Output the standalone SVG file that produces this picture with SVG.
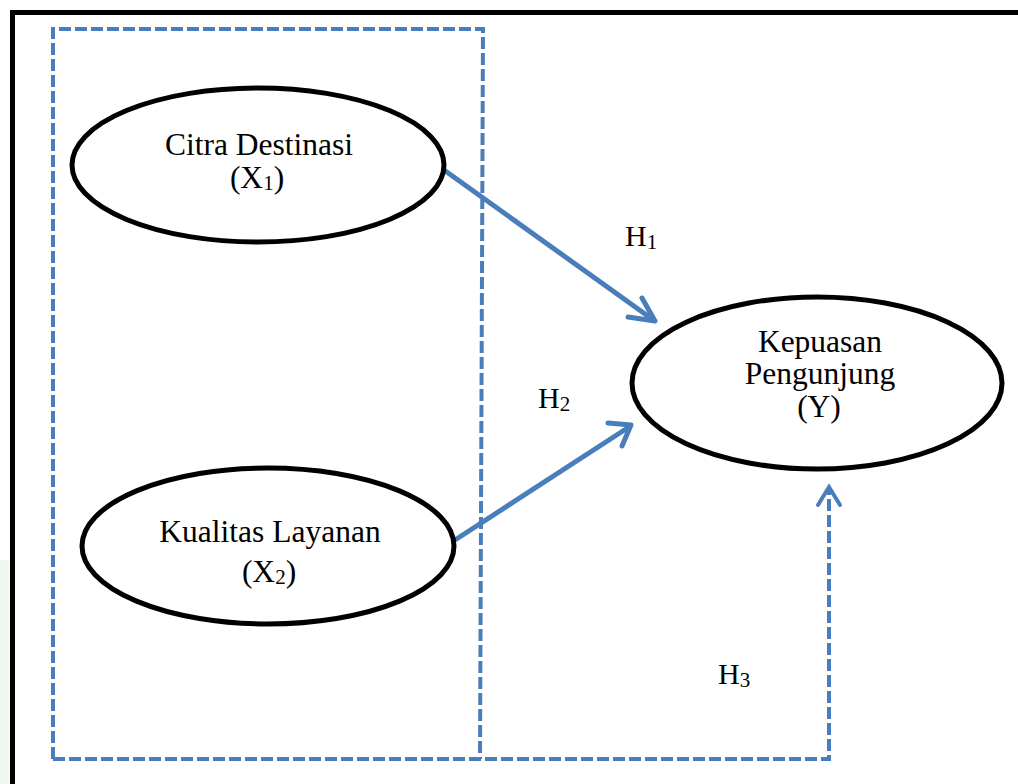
<svg xmlns="http://www.w3.org/2000/svg" width="1018" height="784" viewBox="0 0 1018 784">
<style>
.node{fill:#fff;stroke:#000;stroke-width:5}
.lbl{font-family:"Liberation Serif","Times New Roman",serif;font-size:31.5px;fill:#000;text-anchor:middle}
.h{font-family:"Liberation Serif","Times New Roman",serif;font-size:30px;fill:#000}
.sub{font-size:21px}
.arrow{fill:none;stroke:#4a7ebb;stroke-width:5;stroke-linecap:round}
.dash{fill:none;stroke:#4a7ebb;stroke-width:4;stroke-dasharray:12 4}
.head{fill:none;stroke:#4a7ebb;stroke-width:5;stroke-linecap:round;stroke-linejoin:round}
.headd{fill:none;stroke:#4a7ebb;stroke-width:4;stroke-linecap:round;stroke-linejoin:miter}
</style>
<rect x="0" y="0" width="1018" height="784" fill="#fff"/>
<rect x="0" y="560" width="9" height="224" fill="#eef6f0"/>
<path d="M12.5,790 L12.5,12.5 L1025,12.5" fill="none" stroke="#000" stroke-width="5"/>
<g id="group-box">
<path class="dash" d="M53,759 L53,29 L483,29 L480,759"/>
</g>
<g id="connectors">
<g id="H1-arrow">
<line class="arrow" x1="444" y1="170" x2="652" y2="319"/>
<polyline class="head" points="642,298 655,321 628,317"/>
</g>
<g id="H2-arrow">
<line class="arrow" x1="455" y1="540" x2="629" y2="427"/>
<polyline class="head" points="608,423 631,425 622,446"/>
</g>
<g id="H3-arrow">
<path class="dash" d="M53,759 L829,759 L829,490"/>
<polyline class="headd" points="818,505 829,487 840,505"/>
</g>
<text class="h" x="625" y="246">H<tspan class="sub" dy="3">1</tspan></text>
<text class="h" x="538" y="408">H<tspan class="sub" dy="3">2</tspan></text>
<text class="h" x="718" y="684">H<tspan class="sub" dy="3">3</tspan></text>
</g>
<g id="node-citra">
<ellipse class="node" cx="258" cy="165" rx="186" ry="77"/>
<text class="lbl" x="259" y="155">Citra Destinasi</text>
<text class="lbl" x="257" y="188">(X<tspan class="sub" dy="2">1</tspan><tspan dy="-2">)</tspan></text>
</g>
<g id="node-kualitas">
<ellipse class="node" cx="268" cy="546" rx="186" ry="78"/>
<text class="lbl" x="270" y="542">Kualitas Layanan</text>
<text class="lbl" x="269" y="582">(X<tspan class="sub" dy="2">2</tspan><tspan dy="-2">)</tspan></text>
</g>
<g id="node-kepuasan">
<ellipse class="node" cx="817" cy="383" rx="185" ry="86"/>
<text class="lbl" x="820" y="352">Kepuasan</text>
<text class="lbl" x="820" y="384">Pengunjung</text>
<text class="lbl" x="819" y="417">(Y)</text>
</g>
</svg>
